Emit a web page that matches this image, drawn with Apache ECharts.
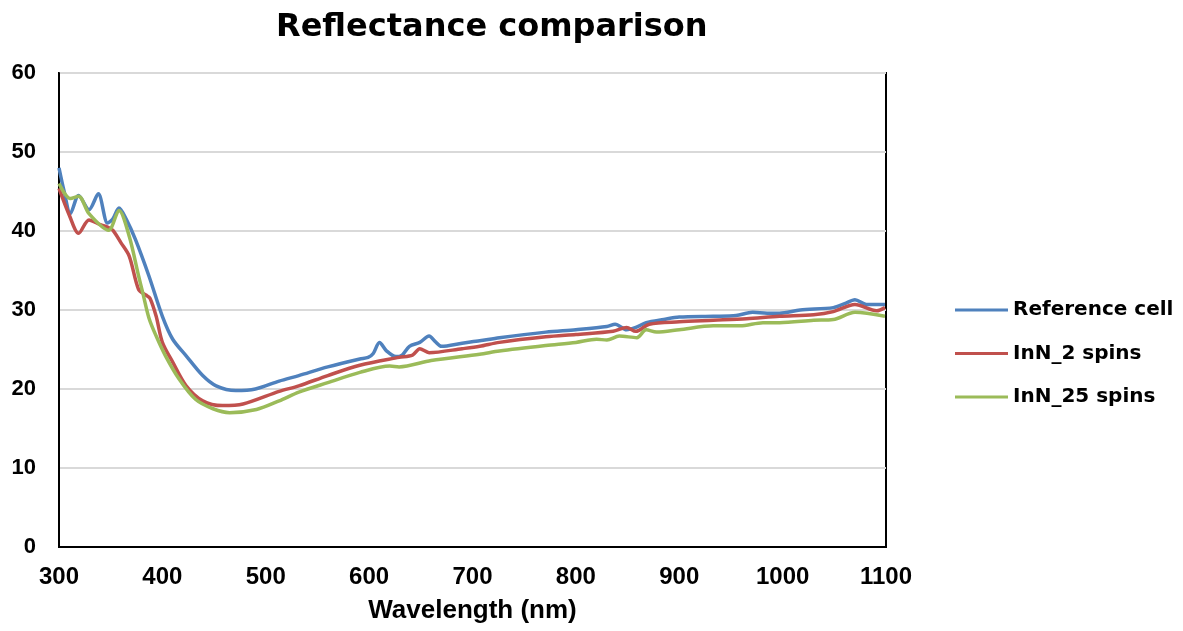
<!DOCTYPE html>
<html>
<head>
<meta charset="utf-8">
<script src="https://cdn.jsdelivr.net/npm/echarts@6/dist/echarts.min.js"></script>
<style>html,body{margin:0;padding:0;background:#fff}#c{width:1183px;height:631px}</style>
</head>
<body>
<div id="c"></div>
<script>
const seriesNames = ['Reference cell', 'InN_2 spins', 'InN_25 spins'];
const xTicks = [300, 400, 500, 600, 700, 800, 900, 1000, 1100];

const refWl = [300,305,311,319,329,338,347,352,358,365,374,387,400,410,423,439,452,471,490,513,532,560,591,599,604,610,617,626,632,639,649,658,664,670,690,707,726,771,800,830,838,849,858,868,885,900,933,955,971,985,997,1017,1049,1060,1070,1081,1099];
const refVal = [48.0,45.0,42.2,44.5,42.7,44.7,41.0,41.5,42.9,41.5,38.9,34.3,29.2,26.3,24.2,21.7,20.4,19.8,20.0,21.0,21.7,22.8,23.8,24.0,24.5,25.9,24.8,24.1,24.3,25.4,25.9,26.7,26.0,25.4,25.8,26.1,26.5,27.2,27.5,27.9,28.2,27.5,27.8,28.4,28.8,29.1,29.2,29.3,29.7,29.6,29.6,30.0,30.3,30.8,31.3,30.7,30.7];

const inn2Wl = [300,310,319,329,340,347,352,360,368,377,384,388,394,400,410,423,439,458,478,513,532,560,591,629,642,649,658,690,707,726,771,800,836,849,858,871,900,933,965,997,1030,1049,1070,1091,1099];
const inn2Val = [45.4,42.0,39.7,41.4,40.8,40.5,40.1,38.5,36.8,32.6,31.9,31.5,29.2,25.9,23.4,20.4,18.5,17.9,18.1,19.7,20.4,21.7,23.0,24.0,24.3,25.1,24.6,25.1,25.4,25.9,26.6,26.9,27.3,27.8,27.3,28.2,28.5,28.7,28.9,29.2,29.4,29.8,30.7,29.9,30.3];

const inn25Wl = [300,311,319,329,348,358,368,377,381,387,394,403,416,432,449,465,491,513,532,560,591,620,629,660,707,726,771,800,820,830,842,859,868,878,900,933,959,981,997,1030,1049,1070,1099];
const inn25Val = [46.0,44.1,44.4,42.2,40.1,42.6,39.3,34.3,32.2,29.0,26.7,24.2,21.3,18.7,17.5,17.0,17.4,18.5,19.6,20.8,22.1,22.9,22.8,23.6,24.4,24.8,25.5,25.9,26.3,26.2,26.7,26.5,27.5,27.2,27.5,28.0,28.0,28.4,28.4,28.7,28.8,29.7,29.2];

const colors = ['#4F81BD', '#C0504D', '#9BBB59'];
const pairs = (xs, ys) => xs.map((x, i) => [x, ys[i]]);
const FONT = '"Liberation Sans", Arial, sans-serif';
const WIDE = '"DejaVu Sans", sans-serif';

const chart = echarts.init(document.getElementById('c'), null, {renderer: 'canvas'});
chart.setOption({
  animation: false,
  backgroundColor: '#fff',
  title: {
    text: 'Reflectance comparison',
    left: 271, top: 7,
    textStyle: {fontFamily: WIDE, fontWeight: 'bold', fontSize: 32, color: '#000'}
  },
  legend: {
    orient: 'vertical',
    left: 950, top: 294,
    icon: 'rect',
    itemWidth: 53, itemHeight: 3,
    itemGap: 21.5,
    data: seriesNames,
    textStyle: {fontFamily: WIDE, fontWeight: 'bold', fontSize: 20, color: '#000', lineHeight: 22}
  },
  grid: {
    left: 59, right: 297, top: 73, bottom: 84,
    show: true, borderColor: '#000', borderWidth: 2
  },
  xAxis: {
    type: 'value', min: xTicks[0], max: xTicks[xTicks.length - 1], interval: 100,
    name: 'Wavelength (nm)', nameLocation: 'middle', nameGap: 51,
    nameTextStyle: {fontFamily: FONT, fontWeight: 'bold', fontSize: 26, color: '#000'},
    axisLine: {show: true, lineStyle: {color: '#000', width: 2}},
    axisTick: {show: false},
    splitLine: {show: false},
    axisLabel: {fontFamily: FONT, fontWeight: 'bold', fontSize: 24, color: '#000', margin: 18,
      formatter: v => String(v)}
  },
  yAxis: {
    type: 'value', min: 0, max: 60, interval: 10,
    axisLine: {show: true, lineStyle: {color: '#000', width: 2}},
    axisTick: {show: false},
    splitLine: {show: true, lineStyle: {color: '#d9d9d9', width: 2}},
    axisLabel: {fontFamily: FONT, fontWeight: 'bold', fontSize: 22, color: '#000', margin: 23}
  },
  series: [
    {name: seriesNames[0], type: 'line', data: pairs(refWl, refVal)},
    {name: seriesNames[1], type: 'line', data: pairs(inn2Wl, inn2Val)},
    {name: seriesNames[2], type: 'line', data: pairs(inn25Wl, inn25Val)}
  ].map((s, i) => Object.assign(s, {
    smooth: 0.3, showSymbol: false, symbol: 'none',
    color: colors[i],
    lineStyle: {color: colors[i], width: 3.5}
  }))
});
</script>
</body>
</html>
